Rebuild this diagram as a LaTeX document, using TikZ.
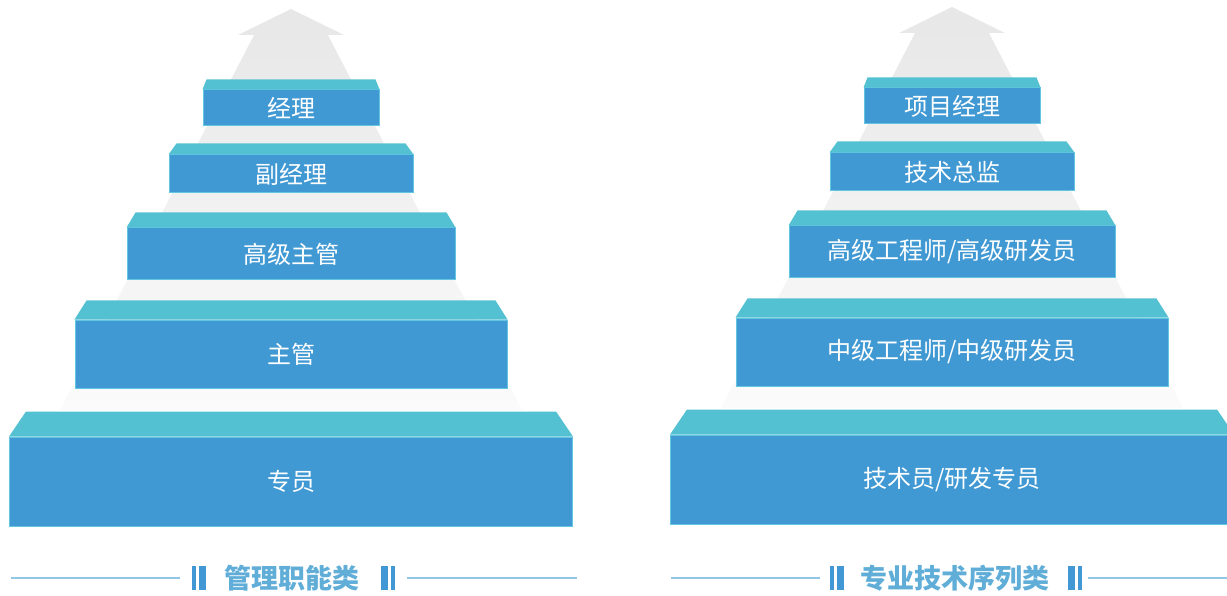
\documentclass[tikz,border=0pt]{standalone}
\usepackage{fontspec}
\usepackage{tikz}
\usetikzlibrary{calc, positioning}
\newfontfamily\cjk{Noto Sans CJK SC}
\definecolor{frontblue}{RGB}{65,153,211}
\definecolor{topcyan}{RGB}{84,193,210}
\definecolor{edgecyan}{RGB}{98,198,226}
\definecolor{arrowgray}{RGB}{231,231,231}
\definecolor{fadegray}{RGB}{251,251,251}
\definecolor{catblue}{RGB}{96,174,216}
\definecolor{barblue}{RGB}{66,152,212}
\definecolor{lineblue}{RGB}{146,198,228}
\tikzset{
    frontnode/.style = {draw=edgecyan, fill=frontblue, rectangle, line width=1pt, inner sep=0em,
      text=white, font=\cjk\fontsize{24}{28}\selectfont},
    topface/.style = {fill=topcyan},
    growarrow/.style = {top color=arrowgray, bottom color=fadegray, draw=none},
    catnode/.style = {draw=none, fill=none, text=catblue, inner sep=0em,
      font=\cjk\bfseries\fontsize{27}{30}\selectfont},
    barnode/.style = {draw=none, fill=barblue, rectangle, inner sep=0em, minimum height=24pt},
    sepline/.style = {lineblue, line width=1.6pt}
}

\begin{document}
\begin{tikzpicture}[x=1pt, y=-1pt]
    \useasboundingbox (0,0) rectangle (1227,596);

    % arrows behind the steps
    \shade[growarrow] (291,9) -- (344,35) -- (328,35) -- (522,410) -- (60,410) -- (254,35) -- (238,35) -- cycle;
    \shade[growarrow] (952,7) -- (1005,33) -- (989,33) -- (1183,408) -- (721,408) -- (915,33) -- (899,33) -- cycle;

    % management steps
    \node [frontnode, minimum width=176, minimum height=36] (m1) at (291,108) {经理};
    \node [frontnode, minimum width=244, minimum height=38] (m2) at (291,174) {副经理};
    \node [frontnode, minimum width=328, minimum height=52] (m3) at (291,254) {高级主管};
    \node [frontnode, minimum width=432, minimum height=68] (m4) at (291,354) {主管};
    \node [frontnode, minimum width=563, minimum height=89] (m5) at (291,481.5) {专员};

    % technical steps
    \node [frontnode, minimum width=176, minimum height=36] (t1) at (952,106) {项目经理};
    \node [frontnode, minimum width=244, minimum height=38] (t2) at (952,172) {技术总监};
    \node [frontnode, minimum width=326, minimum height=52] (t3) at (952,252) {高级工程师/高级研发员};
    \node [frontnode, minimum width=432, minimum height=68] (t4) at (952,352) {中级工程师/中级研发员};
    \node [frontnode, minimum width=563, minimum height=89] (t5) at (952,479.5) {技术员/研发专员};

    \foreach \n/\d/\h in {m1/4/10, m2/8/11, m3/9/15, m4/12/19, m5/17/25,
                          t1/4/10, t2/8/11, t3/9/15, t4/12/19, t5/17/25}
        \fill [topface] (\n.north west) -- ($(\n.north west)+(\d,-\h)$)
            -- ($(\n.north east)+(-\d,-\h)$) -- (\n.north east) -- cycle;

    % category captions
    \node [catnode] (mcat) at (291.5,578) {管理职能类};
    \node [barnode, minimum width=7pt, left=18pt of mcat] (mbar2) {};
    \node [barnode, minimum width=4pt, left=2pt of mbar2] (mbar1) {};
    \node [barnode, minimum width=7pt, right=22pt of mcat] (mbar3) {};
    \node [barnode, minimum width=4pt, right=2pt of mbar3] (mbar4) {};
    \coordinate (mlineA) at (11,578);
    \coordinate (mlineB) at (577,578);
    \draw [sepline, shorten >=12pt] (mlineA) -- (mbar1.west);
    \draw [sepline, shorten <=12pt] (mbar4.east) -- (mlineB);

    \node [catnode] (tcat) at (954.5,578) {专业技术序列类};
    \node [barnode, minimum width=7pt, left=16pt of tcat] (tbar2) {};
    \node [barnode, minimum width=4pt, left=2pt of tbar2] (tbar1) {};
    \node [barnode, minimum width=7pt, right=19pt of tcat] (tbar3) {};
    \node [barnode, minimum width=4pt, right=2pt of tbar3] (tbar4) {};
    \coordinate (tlineA) at (671,578);
    \coordinate (tlineB) at (1227,578);
    \draw [sepline, shorten >=10pt] (tlineA) -- (tbar1.west);
    \draw [sepline, shorten <=6pt] (tbar4.east) -- (tlineB);
\end{tikzpicture}
\end{document}
